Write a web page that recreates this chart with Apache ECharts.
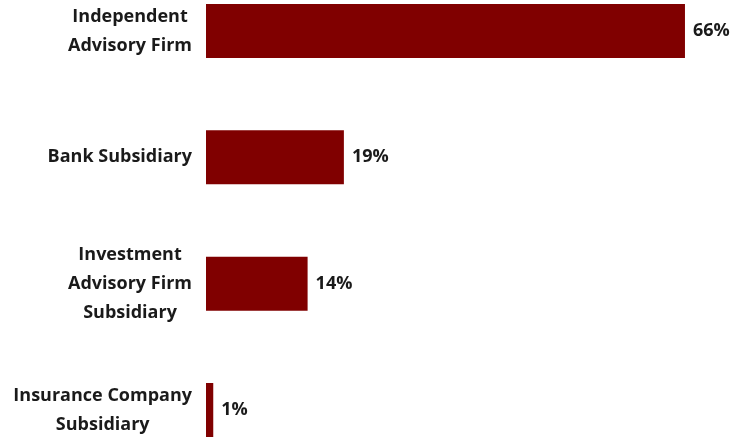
<!DOCTYPE html>
<html>
<head>
<meta charset="utf-8">
<script src="https://cdn.jsdelivr.net/npm/echarts@6/dist/echarts.min.js"></script>
<style>
  html, body { margin: 0; padding: 0; background: #ffffff; }
  #chart { width: 735px; height: 438px; }
</style>
</head>
<body>
<div id="chart"></div>
<script>
// Firm types (top to bottom) and share of respondents, in percent
const categories = [
  'Independent\nAdvisory Firm',
  'Bank Subsidiary',
  'Investment\nAdvisory Firm\nSubsidiary',
  'Insurance Company\nSubsidiary'
];
const shares = [66, 19, 14, 1];

const FONT = '"Open Sans", Lato, sans-serif';

const chart = echarts.init(document.getElementById('chart'), null, { renderer: 'canvas' });
chart.setOption({
  animation: false,
  // categories sit on the grid edges (boundaryGap false), first at top, last at bottom
  grid: { left: 206, top: 31, width: 508, height: 379 },
  xAxis: {
    type: 'value', min: 0, max: 70, show: false
  },
  yAxis: {
    type: 'category',
    inverse: true,
    boundaryGap: false,
    data: categories,
    axisLine: { show: false },
    axisTick: { show: false },
    axisLabel: {
      margin: 14,
      align: 'right',
      // each line centred inside the right-aligned label block
      formatter: v => v.split('\n').map(s => '{c|' + s + '}').join('\n'),
      rich: {
        c: {
          align: 'center',
          color: '#1a1a1a',
          fontFamily: FONT,
          fontWeight: 'bold',
          fontSize: 18,
          lineHeight: 29
        }
      }
    }
  },
  series: [{
    type: 'bar',
    data: shares,
    barWidth: 54,
    itemStyle: { color: '#800000' },
    label: {
      show: true,
      position: 'right',
      distance: 8,
      formatter: p => p.value + '%',
      color: '#1a1a1a',
      fontFamily: FONT,
      fontWeight: 'bold',
      fontSize: 18
    }
  }]
});
</script>
</body>
</html>
